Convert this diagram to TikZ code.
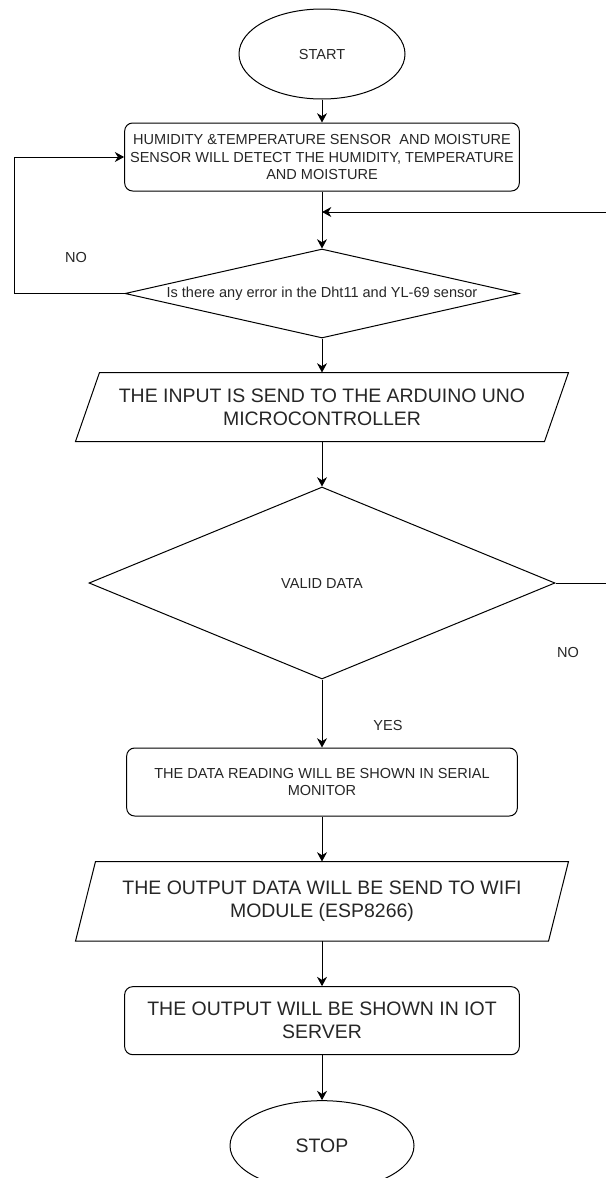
\documentclass[tikz,border=0pt]{standalone}
\usepackage{fontspec}
\setmainfont{Liberation Sans}
\usetikzlibrary{positioning,shapes.geometric,arrows.meta}

\begin{document}
\begin{tikzpicture}[x=0.75pt,y=-0.75pt,inner sep=0pt,line width=0.75pt,
    >={Stealth[length=7pt,width=7.5pt]},
    every node/.style={text=black!85},
    small/.style={font=\fontsize{10.9pt}{13.1pt}\selectfont},
    large/.style={font=\fontsize{14.6pt}{17.25pt}\selectfont},
    terminal/.style={ellipse,draw,align=center,minimum height=67.5pt},
    process/.style={rectangle,rounded corners=6pt,draw,align=center,
        minimum width=296pt,minimum height=51pt},
    io/.style={rectangle,align=center,
        append after command={\pgfextra{\draw
            ([xshift=#1]\tikzlastnode.north west) -- ([xshift=#1]\tikzlastnode.north east) --
            ([xshift=-#1]\tikzlastnode.south east) -- ([xshift=-#1]\tikzlastnode.south west) -- cycle;}}},
    decision/.style={diamond,draw,align=center}]
    \useasboundingbox (0,0) rectangle (606,1178);

    % Flow from top to bottom
    \node[terminal,small,minimum width=124.5pt] (start) at (322,54) {START};
    \node[process,small] (sensing) [below=17.25pt of start]
        {HUMIDITY \&TEMPERATURE SENSOR~ AND MOISTURE\\SENSOR WILL DETECT THE HUMIDITY, TEMPERATURE\\AND MOISTURE};
    \node[decision,small,aspect=4.4,minimum width=295.5pt,minimum height=66.75pt] (sensor_check)
        [below=42.75pt of sensing] {Is there any error in the Dht11 and YL-69 sensor};
    \node[io=9pt,large,minimum width=351pt,minimum height=51pt] (arduino_input)
        [below=25.5pt of sensor_check] {THE INPUT IS SEND TO THE ARDUINO UNO\\MICROCONTROLLER};
    \node[decision,small,aspect=2.4,minimum width=349.5pt,minimum height=144pt] (valid_data)
        [below=33.75pt of arduino_input] {VALID DATA};
    \node[process,small,minimum width=293pt] (serial_monitor) [below=51pt of valid_data]
        {THE DATA READING WILL BE SHOWN IN SERIAL\\MONITOR};
    \node[io=7.5pt,large,minimum width=354pt,minimum height=59pt] (wifi_output)
        [below=33.75pt of serial_monitor] {THE OUTPUT DATA WILL BE SEND TO WIFI\\MODULE (ESP8266)};
    \node[process,large] (iot_server) [below=33.75pt of wifi_output]
        {THE OUTPUT WILL BE SHOWN IN IOT\\SERVER};
    \node[terminal,large,minimum width=138pt] (stop) [below=33.75pt of iot_server] {STOP};

    % Labels of the branches
    \node[small] (l_no_error) at (76,257) {NO};
    \node[small] (l_no_valid) at (568,652) {NO};
    \node[small] (l_yes_valid) at (388,725) {YES};

    % Free ends at the left and right margins
    \coordinate (loop_left) at (14,0);
    \coordinate (return_in) at (606,212);
    \coordinate (valid_out) at (606,0);

    \draw[->] (start) -- (sensing);
    \draw[->] (sensing) -- (sensor_check);
    \draw[->] (return_in) -- (sensing.south |- return_in);
    \draw[->] (sensor_check.west) -- (sensor_check.west -| loop_left) |- (sensing.west);
    \draw[->] (sensor_check) -- (arduino_input);
    \draw[->] (arduino_input) -- (valid_data);
    \draw (valid_data.east) -- (valid_data.east -| valid_out);
    \draw[->] (valid_data) -- (serial_monitor);
    \draw[->] (serial_monitor) -- (wifi_output);
    \draw[->] (wifi_output) -- (iot_server);
    \draw[->] (iot_server) -- (stop);
\end{tikzpicture}
\end{document}
